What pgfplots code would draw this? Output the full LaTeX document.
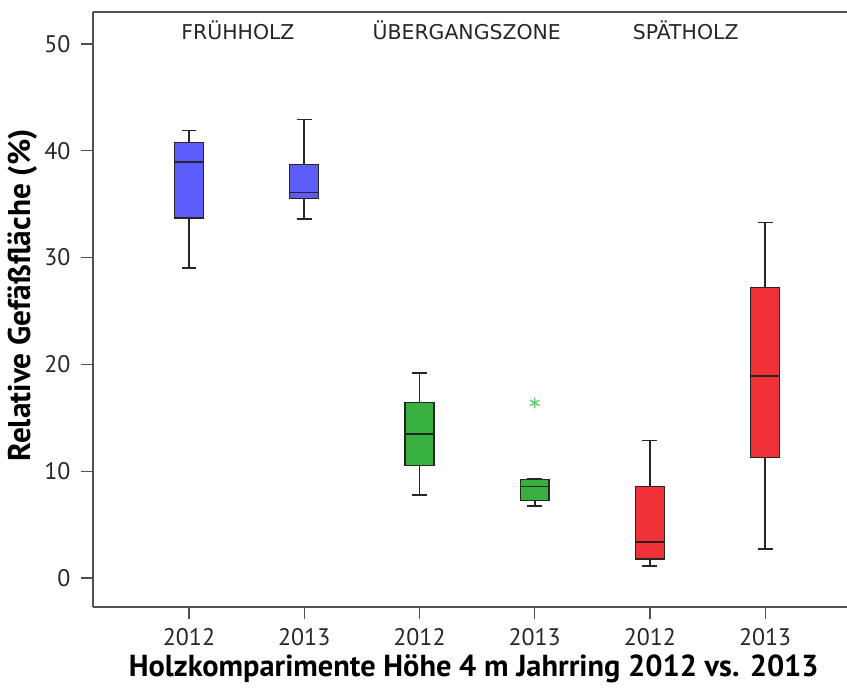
\documentclass[border=0pt]{standalone}
\usepackage{pgfplots}
\pgfplotsset{compat=1.18}
\usepgfplotslibrary{statistics}
\usepackage{fontspec}
\setmainfont{PT Sans}
\newfontfamily\catfont{DejaVu Sans}
\definecolor{cblue}{RGB}{92,92,250}
\definecolor{cgreen}{RGB}{56,176,64}
\definecolor{cred}{RGB}{238,50,56}
\definecolor{cstar}{RGB}{100,200,120}
\definecolor{axgray}{RGB}{80,80,80}
\begin{document}
\begin{tikzpicture}
\useasboundingbox (0bp,0bp) rectangle (847bp,690bp);
\begin{axis}[
  at={(93bp,83bp)}, anchor=south west,
  scale only axis, width=754bp, height=595bp,
  xmin=-0.833, xmax=5.71, ymin=-2.72, ymax=53.0,
  axis lines=left,
  axis line style={draw=axgray, line width=1.6pt, -},
  xtick={0,1,2,3,4,5},
  xticklabels={2012,2013,2012,2013,2012,2013},
  ytick={0,10,20,30,40,50},
  tick align=outside, tick pos=left,
  major tick length=12bp,
  tick style={draw=axgray, line width=1.3pt},
  /pgf/number format/assume math mode=true,
  ticklabel style={font=\fontsize{24}{26}\selectfont, text=black!85},
  xticklabel style={yshift=-6bp},
  yticklabel style={xshift=-7bp},
  xlabel={\textbf{Holzkomparimente Höhe 4 m Jahrring 2012 vs. 2013}},
  ylabel={\textbf{Relative Gefäßfläche (\%)}},
  xlabel style={font=\fontsize{30.5}{32}\selectfont, at={(axis description cs:0.505,-0.104)}, anchor=center},
  ylabel style={font=\fontsize{31.5}{33}\selectfont, at={(axis description cs:-0.0928,0.524)}, anchor=center},
  boxplot/draw direction=y,
  boxplot/box extend=0.25,
  boxplot/whisker extend=0.13,
  boxplot/every box/.style={draw=black!85, line width=1.3pt},
  boxplot/every whisker/.style={draw=black!85, line width=1.6pt},
  boxplot/every median/.style={draw=black!85, line width=1.6pt},
  clip=false,
]
\draw[draw=axgray, line width=1.6pt] (rel axis cs:0,1) -- (rel axis cs:1,1);
% FRÜHHOLZ 2012
\addplot[boxplot prepared={lower whisker=29.0, lower quartile=33.7, median=38.95, upper quartile=40.8, upper whisker=41.9, draw position=0},
  fill=cblue, draw=black!85] coordinates {};
% FRÜHHOLZ 2013
\addplot[boxplot prepared={lower whisker=33.6, lower quartile=35.55, median=36.1, upper quartile=38.7, upper whisker=42.95, draw position=1},
  fill=cblue, draw=black!85] coordinates {};
% ÜBERGANGSZONE 2012
\addplot[boxplot prepared={lower whisker=7.75, lower quartile=10.55, median=13.5, upper quartile=16.4, upper whisker=19.2, draw position=2},
  fill=cgreen, draw=black!85] coordinates {};
% ÜBERGANGSZONE 2013
\addplot[boxplot prepared={lower whisker=6.75, lower quartile=7.25, median=8.55, upper quartile=9.2, upper whisker=9.3, draw position=3},
  fill=cgreen, draw=black!85, mark=asterisk, mark size=5.5bp,
  mark options={draw=cstar, fill=cstar, line width=1.4pt}] coordinates {(3,16.4)};
% SPÄTHOLZ 2012
\addplot[boxplot prepared={lower whisker=1.12, lower quartile=1.78, median=3.34, upper quartile=8.55, upper whisker=12.86, draw position=4},
  fill=cred, draw=black!85] coordinates {};
% SPÄTHOLZ 2013
\addplot[boxplot prepared={lower whisker=2.72, lower quartile=11.27, median=18.9, upper quartile=27.18, upper whisker=33.27, draw position=5},
  fill=cred, draw=black!85] coordinates {};
\node[font=\catfont\fontsize{20.5}{22}\selectfont, text=black!85] at (axis cs:0.425,51.3) {FRÜHHOLZ};
\node[font=\catfont\fontsize{20.5}{22}\selectfont, text=black!85] at (axis cs:2.41,51.3) {ÜBERGANGSZONE};
\node[font=\catfont\fontsize{20.5}{22}\selectfont, text=black!85] at (axis cs:4.31,51.3) {SPÄTHOLZ};
\end{axis}
\end{tikzpicture}
\end{document}
